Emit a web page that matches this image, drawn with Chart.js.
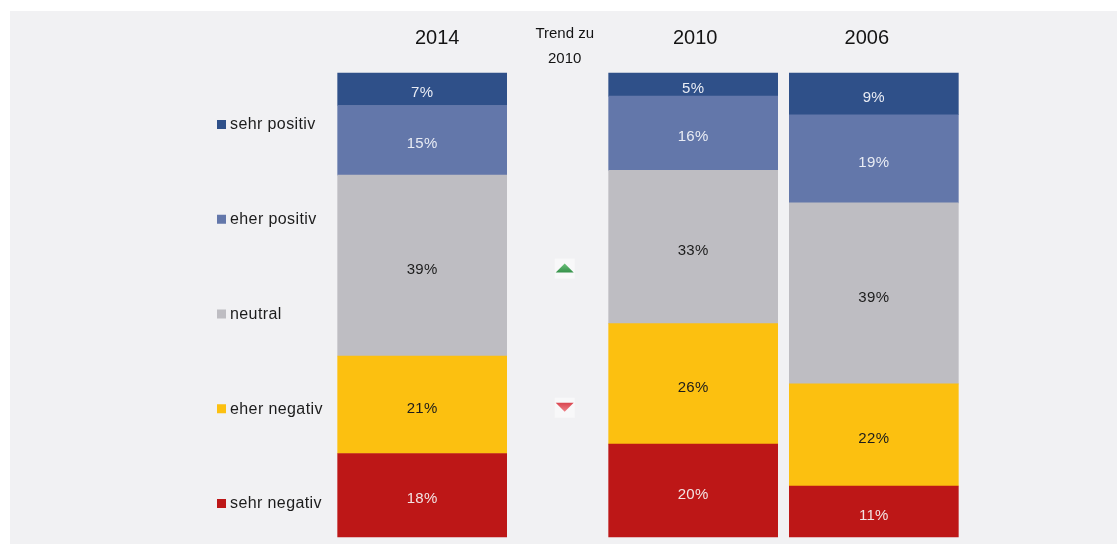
<!DOCTYPE html>
<html>
<head>
<meta charset="utf-8">
<script src="https://cdn.jsdelivr.net/npm/chart.js@4.4.1/dist/chart.umd.min.js"></script>
<style>
  html, body { margin: 0; padding: 0; background: #ffffff; }
  #wrap { position: relative; width: 1117px; height: 544px; }
  canvas { display: block; }
</style>
</head>
<body>
<div id="wrap"><canvas id="c" width="1117" height="544"></canvas></div>
<script>
// ---- data ----
const years = ['2014', '2010', '2006'];
const seriesNames = ['sehr positiv', 'eher positiv', 'neutral', 'eher negativ', 'sehr negativ'];
const sehrPositiv = [7, 5, 9];
const eherPositiv = [15, 16, 19];
const neutral = [39, 33, 39];
const eherNegativ = [21, 26, 22];
const sehrNegativ = [18, 20, 11];
const trendHeader = ['Trend zu', '2010'];
const trendDirections = ['', '', 'up', 'down', '']; // per series, for 2014 vs 2010

// ---- styles ----
const seriesColors = ['#2f5089', '#6377aa', '#bebdc2', '#fcc010', '#bd1717'];
const labelColors = ['#e9ecf4', '#e9ecf4', '#1c1c1c', '#1c1c1c', '#f2e4e4'];
const fontFamily = '"Liberation Sans", Arial, Helvetica, sans-serif';
const headerOffsets = [15, 2, -7];

// category slots (gaps between bars)
const slotOf = [0, 3, 5];
const slotCount = 6;
const slotLabels = Array.from({length: slotCount}, (_, i) => {
  const k = slotOf.indexOf(i);
  return k >= 0 ? years[k] : '';
});
function toSlots(arr) {
  const out = Array(slotCount).fill(null);
  slotOf.forEach((s, k) => { out[s] = arr[k]; });
  return out;
}

const seriesValues = [sehrPositiv, eherPositiv, neutral, eherNegativ, sehrNegativ];
// stack bottom-first
const order = [4, 3, 2, 1, 0];
const datasets = order.map(i => ({
  label: seriesNames[i],
  data: toSlots(seriesValues[i]),
  backgroundColor: seriesColors[i],
  borderWidth: 0,
  barThickness: 169,
  clip: false,
  seriesIndex: i
}));

const decorPlugin = {
  id: 'decor',
  beforeDraw(chart) {
    const ctx = chart.ctx;
    ctx.save();
    ctx.fillStyle = '#f1f1f3';
    ctx.fillRect(10, 11, chart.width - 10, chart.height - 11);
    ctx.restore();
  },
  afterDatasetsDraw(chart) {
    const ctx = chart.ctx;
    const area = chart.chartArea;
    const xs = chart.scales.x;
    ctx.save();
    // segment value labels
    chart.data.datasets.forEach((ds, di) => {
      const meta = chart.getDatasetMeta(di);
      meta.data.forEach((el, j) => {
        const v = ds.data[j];
        if (v == null) return;
        const p = el.getProps(['x', 'y', 'base'], true);
        ctx.font = '15px ' + fontFamily;
        ctx.letterSpacing = '0.3px';
        ctx.fillStyle = labelColors[ds.seriesIndex];
        ctx.textAlign = 'center';
        ctx.textBaseline = 'middle';
        ctx.fillText(v + '%', p.x, (p.y + p.base) / 2 + 4);
      });
    });
    // year headers
    ctx.font = '20px ' + fontFamily;
    ctx.letterSpacing = '0px';
    ctx.fillStyle = '#141414';
    ctx.textAlign = 'center';
    ctx.textBaseline = 'middle';
    slotOf.forEach((s, k) => {
      ctx.fillText(years[k], xs.getPixelForValue(s) + headerOffsets[k], area.top - 35);
    });
    // trend column
    const x0 = xs.getPixelForValue(slotOf[0]);
    const x1 = xs.getPixelForValue(slotOf[1]);
    const tx = x0 + (x1 - x0) * 0.526;
    ctx.font = '15px ' + fontFamily;
    ctx.fillStyle = '#141414';
    ctx.fillText(trendHeader[0], tx, area.top - 39);
    ctx.fillText(trendHeader[1], tx, area.top - 14);
    // trend arrows at 2014 segment centers
    chart.data.datasets.forEach((ds, di) => {
      const dir = trendDirections[ds.seriesIndex];
      if (!dir) return;
      const el = chart.getDatasetMeta(di).data[slotOf[0]];
      const p = el.getProps(['y', 'base'], true);
      const cy = (p.y + p.base) / 2 + 3;
      ctx.fillStyle = '#f8f8f9';
      ctx.fillRect(tx - 10, cy - 10, 20, 20);
      ctx.beginPath();
      if (dir === 'up') {
        const g = ctx.createLinearGradient(0, cy - 5, 0, cy + 5);
        g.addColorStop(0, '#6cc07a');
        g.addColorStop(1, '#2e8b44');
        ctx.fillStyle = g;
        ctx.moveTo(tx, cy - 5);
        ctx.lineTo(tx + 9, cy + 4);
        ctx.lineTo(tx - 9, cy + 4);
      } else {
        const g = ctx.createLinearGradient(0, cy - 5, 0, cy + 5);
        g.addColorStop(0, '#d9454f');
        g.addColorStop(1, '#f08a90');
        ctx.fillStyle = g;
        ctx.moveTo(tx - 9, cy - 5);
        ctx.lineTo(tx + 9, cy - 5);
        ctx.lineTo(tx, cy + 4);
      }
      ctx.closePath();
      ctx.fill();
    });
    // legend (top to bottom)
    const top = area.top + 51;
    const step = (area.height - 85) / (seriesNames.length - 1);
    seriesNames.forEach((name, i) => {
      const cy = top + i * step;
      ctx.fillStyle = seriesColors[i];
      ctx.fillRect(217, cy - 4, 9, 9);
      ctx.font = '16px ' + fontFamily;
      ctx.letterSpacing = '0.4px';
      ctx.fillStyle = '#1c1c1c';
      ctx.textAlign = 'left';
      ctx.textBaseline = 'middle';
      ctx.fillText(name, 230, cy + 1);
    });
    ctx.restore();
  }
};

new Chart(document.getElementById('c'), {
  type: 'bar',
  data: { labels: slotLabels, datasets },
  options: {
    responsive: false,
    animation: false,
    layout: { padding: { left: 377, right: 198, top: 73, bottom: 7 } },
    plugins: { legend: { display: false }, tooltip: { enabled: false } },
    scales: {
      x: { stacked: true, display: false, offset: true },
      y: { stacked: true, display: false, min: 0, max: 100 }
    }
  },
  plugins: [decorPlugin]
});
</script>
</body>
</html>
